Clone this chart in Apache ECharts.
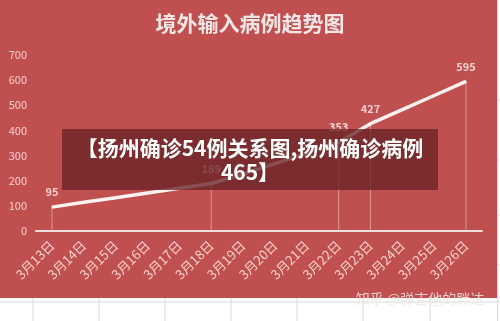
<!DOCTYPE html>
<html><head><meta charset="utf-8">
<script src="https://cdn.jsdelivr.net/npm/echarts@6/dist/echarts.min.js"></script>
<style>html,body{margin:0;padding:0;background:#fff}#c{width:500px;height:321px}</style>
</head><body><div id="c"></div>
<script>
var titleText = '境外输入病例趋势图';
var categories = ['3月13日','3月14日','3月15日','3月16日','3月17日','3月18日','3月19日','3月20日','3月21日','3月22日','3月23日','3月24日','3月25日','3月26日'];
var values = [95, 114, 132, 151, 170, 189, 226, 268, 310, 353, 427, 483, 539, 595];
var labeledIdx = [0, 5, 9, 10, 13];
var yTicks = [0, 100, 200, 300, 400, 500, 600, 700];
var overlayLine1 = '【扬州确诊54例关系图,扬州确诊病例';
var overlayLine2 = '465】';
var watermark = '知乎 @弹吉他的胖达';

var lineData = values.map(function(v, i){
  return labeledIdx.indexOf(i) >= 0 ? {value: v, label: {show: true}} : v;
});
var dropData = values.map(function(v, i){ return labeledIdx.indexOf(i) >= 0 ? v : '-'; });

var chart = echarts.init(document.getElementById('c'));
var font = '"Noto Sans CJK SC", "Noto Sans", sans-serif';
var lbl = 'rgba(250,218,218,0.92)';
var cellStroke = '#d3dcdd';
var gridEls = [];
[33, 99, 165, 231, 297, 363, 430].forEach(function(x){
  gridEls.push({type:'line', shape:{x1:x, y1:298, x2:x, y2:321}, style:{stroke:cellStroke, lineWidth:1}, z:-9});
});
chart.setOption({
  animation: false,
  textStyle: {fontFamily: font},
  graphic: [
    {type:'rect', shape:{x:0, y:0, width:497, height:298}, style:{fill:'#c0504f'}, z:-10, silent:true},
    {type:'line', shape:{x1:0, y1:302, x2:500, y2:302}, style:{stroke:cellStroke, lineWidth:1}, z:-9},
    {type:'line', shape:{x1:497.5, y1:0, x2:497.5, y2:321}, style:{stroke:cellStroke, lineWidth:1}, z:-9},
    {type:'line', shape:{x1:497, y1:100, x2:500, y2:100}, style:{stroke:cellStroke, lineWidth:1}, z:-9},
    {type:'line', shape:{x1:497, y1:160, x2:500, y2:160}, style:{stroke:cellStroke, lineWidth:1}, z:-9},
    {type:'line', shape:{x1:497, y1:215, x2:500, y2:215}, style:{stroke:cellStroke, lineWidth:1}, z:-9},
    {type:'line', shape:{x1:497, y1:265, x2:500, y2:265}, style:{stroke:cellStroke, lineWidth:1}, z:-9}
  ].concat(gridEls).concat([
    {type:'rect', shape:{x:62, y:129, width:376, height:61}, style:{fill:'rgba(105,35,38,0.78)'}, z:50, silent:true},
    {type:'text', x:250, y:148, z:51, style:{text: overlayLine1, fill:'#ffffff', font:'bold 21px ' + font, textAlign:'center', textVerticalAlign:'middle'}},
    {type:'text', x:250, y:172, z:51, style:{text: overlayLine2, fill:'#ffffff', font:'bold 21px ' + font, textAlign:'center', textVerticalAlign:'middle'}},
    {type:'text', x:420, y:299, z:52, style:{text: watermark, fill:'rgba(238,232,232,0.85)', font:'14px ' + font, textAlign:'center', textVerticalAlign:'middle'}}
  ]),
  title: {
    text: titleText, left: 'center', top: 8,
    textStyle: {color: '#f6e6e6', fontSize: 21, fontWeight: 'bold', fontFamily: font}
  },
  grid: {left: 36, right: 18, top: 55, bottom: 90},
  xAxis: {
    type: 'category', data: categories, boundaryGap: true,
    axisLine: {lineStyle: {color: '#f3dede', width: 2}},
    axisTick: {show: false},
    axisLabel: {rotate: 45, color: lbl, fontSize: 13, margin: 12}
  },
  yAxis: {
    type: 'value', min: 0, max: 700, interval: 100,
    axisLine: {show: false}, axisTick: {show: false},
    splitLine: {show: false},
    axisLabel: {color: lbl, fontSize: 11, margin: 9,
      formatter: function(v){ return yTicks.indexOf(v) >= 0 ? String(v) : ''; }}
  },
  series: [
    {type: 'bar', data: dropData, barWidth: 1, barGap: '-100%', itemStyle: {color: 'rgba(250,220,220,0.5)'}, silent: true, z: 1},
    {type: 'line', data: lineData, symbol: 'circle', symbolSize: 1, showSymbol: true,
      itemStyle: {color: '#fbf1f0'},
      lineStyle: {color: '#fbf1f0', width: 3.5},
      label: {show: false, position: 'top', distance: 9, color: lbl, fontSize: 11, fontWeight: 'bold'},
      z: 3}
  ]
});
</script></body></html>
